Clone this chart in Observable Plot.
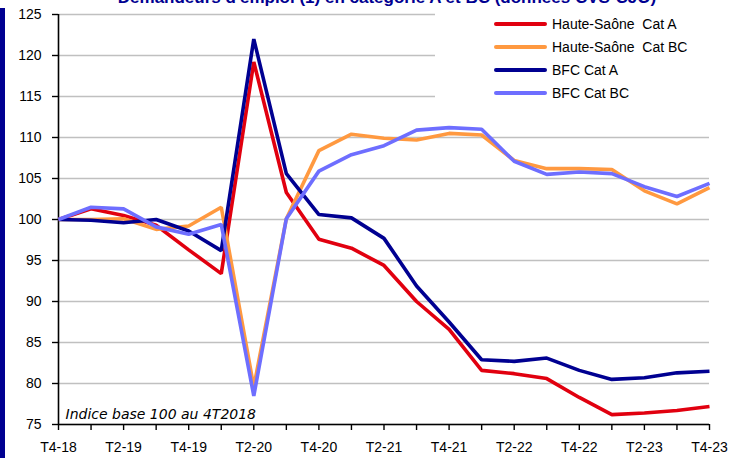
<!DOCTYPE html>
<html><head><meta charset="utf-8">
<script src="https://cdn.jsdelivr.net/npm/d3@7"></script>
<script src="https://cdn.jsdelivr.net/npm/@observablehq/plot@0.6"></script>
<style>
body{margin:0;background:#fff;}
#wrap{position:relative;width:744px;height:458px;overflow:hidden;font-family:"Liberation Sans",Arial,sans-serif;}
#bar{position:absolute;left:0;top:8px;width:5px;height:460px;background:#000091;}
#title{position:absolute;z-index:3;left:0;width:744px;top:-12px;line-height:20px;text-align:center;font-size:17px;font-weight:bold;color:#000091;white-space:nowrap;padding-left:30px;box-sizing:border-box;}
#legend{position:absolute;z-index:1;left:435px;top:0;width:309px;height:112px;background:#fff;}
.row{position:absolute;left:59px;height:16px;font-size:14px;color:#000;display:flex;align-items:center;white-space:pre;}
.sw{width:53px;height:4px;margin-right:5px;border-radius:2px;}
</style></head>
<body><div id="wrap"><div id="bar"></div><div id="title">Demandeurs d'emploi (1) en catégorie A et BC (données CVS-CJO)</div></div>
<script>
const quarters = ["T4-18","T1-19","T2-19","T3-19","T4-19","T1-20","T2-20","T3-20","T4-20","T1-21","T2-21","T3-21","T4-21","T1-22","T2-22","T3-22","T4-22","T1-23","T2-23","T3-23","T4-23"];
const hsA  = [100,101.3,100.5,99.3,96.3,93.4,119.2,103.3,97.6,96.5,94.4,90.0,86.6,81.6,81.2,80.6,78.3,76.2,76.4,76.7,77.2];
const hsBC = [100,100.0,100.1,98.8,99.2,101.5,79.6,100.1,108.4,110.4,109.9,109.7,110.5,110.3,107.2,106.2,106.2,106.1,103.5,101.9,103.9];
const bfcA = [100,99.9,99.6,100.0,98.6,96.2,122.0,105.6,100.6,100.2,97.7,91.9,87.5,82.9,82.7,83.1,81.6,80.5,80.7,81.3,81.5];
const bfcBC= [100,101.5,101.3,99.1,98.2,99.4,78.5,100.1,105.9,107.9,109.0,110.9,111.2,111.0,107.1,105.5,105.8,105.6,104.0,102.8,104.4];
const seriesNames = ["Haute-Saône  Cat A","Haute-Saône  Cat BC","BFC Cat A","BFC Cat BC"];
const colors = ["#e1000f","#ff9940","#000091","#6e6eff"];
const yTicks = [75,80,85,90,95,100,105,110,115,120,125];
const allSeries = [hsA,hsBC,bfcA,bfcBC];
const data = allSeries.flatMap((s,k)=>s.map((v,i)=>({i,v,serie:seriesNames[k]})));
const xIdx = quarters.map((q,i)=>i);

const chart = Plot.plot({
  width:744,height:458,
  marginLeft:58,marginRight:35,marginTop:14,marginBottom:34,
  insetLeft:0,insetRight:0,insetTop:0,insetBottom:0,
  style:{fontFamily:"'Liberation Sans',Arial,sans-serif",background:"transparent",overflow:"visible"},
  x:{domain:[0,quarters.length-1]},
  y:{domain:[75,125]},
  color:{domain:seriesNames,range:colors},
  marks:[
    Plot.gridY(yTicks,{stroke:"#c0c0c0",strokeOpacity:1,strokeWidth:1.6}),
    Plot.ruleX([0],{stroke:"#000",strokeWidth:1.6}),
    Plot.ruleY([75],{stroke:"#000",strokeWidth:1.6}),
    Plot.axisY(yTicks,{tickSize:6,tickPadding:11,fontSize:14,stroke:"#000",strokeWidth:1.4,label:null}),
    Plot.axisX(xIdx,{tickSize:6,tickPadding:12,fontSize:14,stroke:"#000",strokeWidth:1.4,label:null,
      tickFormat:(d)=> d%2===0 ? quarters[d] : ""}),
    Plot.text(["Indice base 100 au 4T2018"],{frameAnchor:"bottom-left",dx:7,dy:-6,lineAnchor:"bottom",fontStyle:"italic",fontSize:14,fontFamily:"'DejaVu Sans',sans-serif",fill:"#000"}),
    Plot.line(data,{x:"i",y:"v",z:"serie",stroke:"serie",strokeWidth:3.6,strokeLinejoin:"miter",strokeLinecap:"butt"})
  ]
});
const wrap=document.getElementById("wrap");
chart.style.position="absolute";chart.style.left="0";chart.style.top="0";
wrap.insertBefore(chart, document.getElementById("title"));
const leg=document.createElement("div");leg.id="legend";
seriesNames.forEach((n,k)=>{
  const r=document.createElement("div");r.className="row";r.style.top=(16+23*k)+"px";
  const sw=document.createElement("div");sw.className="sw";sw.style.background=colors[k];
  const t=document.createElement("span");t.textContent=n;
  r.appendChild(sw);r.appendChild(t);leg.appendChild(r);
});
wrap.appendChild(leg);
</script></body></html>
